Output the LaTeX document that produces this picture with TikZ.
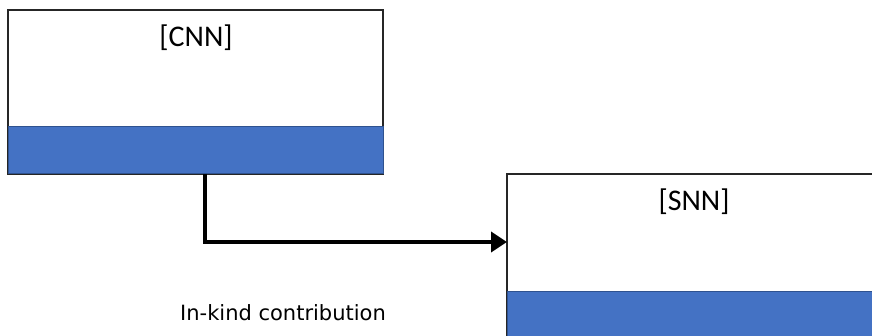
\documentclass[tikz,border=0pt]{standalone}
\usepackage{fontspec}
\setmainfont{Carlito}
\newfontfamily\labelfont{DejaVu Sans}
\usetikzlibrary{arrows.meta}
\definecolor{bandblue}{HTML}{4472C4}
\definecolor{banddark}{HTML}{2F528F}
\begin{document}
\begin{tikzpicture}[x=1pt,y=-1pt,
  panel/.style={draw=black!85, line width=1.2pt, fill=white},
  band/.style={draw=banddark, line width=1pt, fill=bandblue},
  title/.style={font=\fontsize{30}{36}\selectfont, inner sep=0pt},
  flow/.style={line width=3.6pt, -{Triangle[length=16pt,width=20pt]}}]
\useasboundingbox (0,0) rectangle (872,336);
% CNN panel
\draw[panel] (8,10) rectangle (383,174);
\draw[band] (8,127) rectangle (383,174);
\node[title] (cnn) at (196,38) {[CNN]};
\coordinate (cnnout) at (205,174);
% SNN panel (runs past the right and bottom edges)
\draw[panel] (507,174) rectangle (880,345);
\draw[band] (507,292) rectangle (880,345);
\node[title] (snn) at (694,202) {[SNN]};
\coordinate (snnin) at (507,242);
% connector
\draw[flow] (cnnout) |- (snnin);
\node[font=\labelfont\fontsize{21}{25}\selectfont, inner sep=0pt] (lbl) at (283,313) {In-kind contribution};
\end{tikzpicture}
\end{document}
